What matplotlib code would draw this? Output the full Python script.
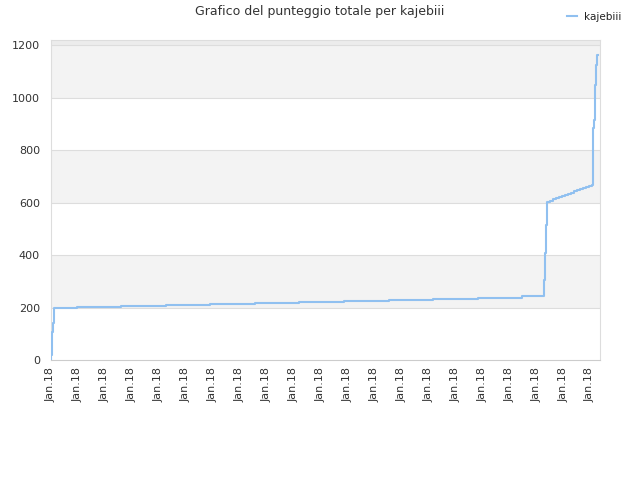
import matplotlib
matplotlib.use("Agg")
import matplotlib.pyplot as plt

# total score over time, x in tick units (one tick per "Jan.18" label)
player = "kajebiii"
x_px = [51, 51.3, 52, 53, 54, 77, 121, 166, 210, 255, 299, 344, 389, 433,
        478, 522, 544, 545, 546, 547, 550, 553, 556, 559, 562, 565, 568,
        571, 574, 577, 580, 583, 586, 589, 591.7, 592.5, 593.3, 594.1,
        595, 595.8, 596.6, 597.5]
score = [0, 19, 108, 142, 200, 203, 207, 211, 215, 218, 222, 226, 230, 234,
         238, 243, 305, 408, 515, 604, 608, 612, 616, 621, 625, 629, 634,
         638, 643, 647, 651, 656, 660, 664, 667, 732, 885, 915,
         1049, 1125, 1163, 1163]
tick_labels = ["Jan.18"] * 21

# pixel positions -> tick units
x = [(p - 51) / 26.95 for p in x_px]

fig = plt.figure(figsize=(6.4, 4.8), dpi=100)
ax = fig.add_axes([51 / 640, 120 / 480, 549 / 640, 320 / 480])

# alternating bands
for lo, hi in [(200, 400), (600, 800), (1000, 1200)]:
    ax.axhspan(lo, hi, color="#f3f3f3", zorder=0, lw=0)
ax.axhspan(1200, 1220, color="#ececec", zorder=0, lw=0)
for yv in range(200, 1201, 200):
    ax.axhline(yv, color="#dddddd", lw=0.8, zorder=1)

ax.plot(x, score, drawstyle="steps-post", color="#90c0f0", lw=1.5,
        label=player, zorder=3)

ax.set_xlim(0, 549 / 26.95)
ax.set_ylim(0, 1220)
ax.set_xticks(range(21))
ax.set_xticklabels(tick_labels, rotation=90, fontsize=8, color="#333333")
ax.set_yticks(range(0, 1201, 200))
ax.tick_params(axis="y", length=0, labelsize=8, labelcolor="#333333", pad=8)
ax.tick_params(axis="x", length=0, pad=5)

for side in ["left", "right", "top", "bottom"]:
    ax.spines[side].set_color("#dddddd")
ax.spines["bottom"].set_color("#cccccc")

fig.suptitle("Grafico del punteggio totale per kajebiii", x=0.5, y=0.99,
             fontsize=9, color="#333333")
fig.legend(loc="upper right", bbox_to_anchor=(0.985, 0.995), frameon=False,
           fontsize=7.5, handlelength=1.0, handletextpad=0.6,
           labelcolor="#222222")

fig.savefig("out.png", dpi=100)
